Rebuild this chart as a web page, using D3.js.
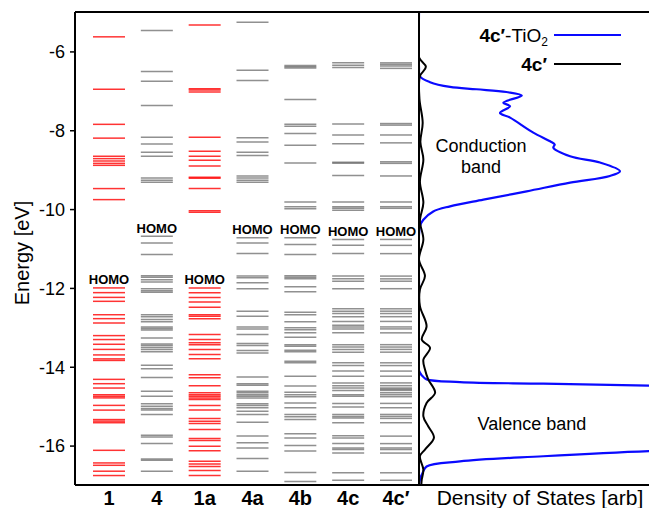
<!DOCTYPE html>
<html>
<head>
<meta charset="utf-8">
<script src="https://cdn.jsdelivr.net/npm/d3@7"></script>
<style>
  body { margin: 0; background: #fff; }
  text { font-family: "Liberation Sans", Arial, Helvetica, sans-serif; }
</style>
</head>
<body>
<div id="chart"></div>
<script>
// molecule labels on the x axis
const categories = ["1", "4", "1a", "4a", "4b", "4c", "4c\u2032"];
const redCols = ["1", "1a"];

// orbital energies [eV]
const levels1 = [-5.63, -6.96, -7.85, -8.20, -8.66, -8.72, -8.78, -8.84, -8.89, -9.48, -9.76,
  -12.00, -12.12, -12.24, -12.34, -12.68, -12.78, -12.89, -13.21, -13.31, -13.43, -13.56, -13.70,
  -13.80, -13.84, -14.32, -14.43, -14.54, -14.71, -14.75, -14.79, -14.98, -15.10, -15.34, -15.38,
  -15.42, -16.12, -16.44, -16.50, -16.65, -16.76];
const levels4 = [-5.47, -6.51, -6.76, -7.37, -8.18, -8.35, -8.56, -8.66, -9.21, -9.27, -9.32,
  -10.69, -10.86, -11.15, -11.69, -11.73, -11.79, -11.85, -12.02, -12.07, -12.11, -12.68, -12.73,
  -12.80, -12.86, -12.99, -13.03, -13.07, -13.27, -13.42, -13.46, -13.51, -13.56, -13.62, -13.96,
  -14.05, -14.27, -14.62, -14.75, -14.94, -15.00, -15.06, -15.10, -15.21, -15.74, -15.78, -15.95,
  -16.34, -16.37, -16.65];
const levels1a = [-5.33, -6.95, -6.98, -7.03, -8.18, -8.53, -8.66, -8.76, -8.91, -9.19, -9.22,
  -9.48, -10.04, -10.08, -12.00, -12.12, -12.24, -12.36, -12.49, -12.68, -12.72, -12.78, -13.18,
  -13.31, -13.39, -13.44, -13.56, -13.69, -13.80, -14.20, -14.28, -14.48, -14.66, -14.71, -14.75,
  -14.79, -14.83, -14.98, -15.10, -15.31, -15.38, -15.44, -15.59, -15.82, -15.87, -16.02, -16.13,
  -16.40, -16.47, -16.53, -16.63, -16.76];
const levels4a = [-5.26, -6.48, -6.74, -8.19, -8.30, -8.56, -8.64, -9.16, -9.21, -9.27, -9.32,
  -10.73, -10.86, -11.13, -11.70, -11.74, -11.87, -12.02, -12.59, -12.72, -12.99, -13.04, -13.18,
  -13.41, -13.46, -13.59, -13.65, -14.26, -14.43, -14.47, -14.62, -14.66, -14.71, -14.75, -14.79,
  -14.94, -14.98, -15.04, -15.13, -15.21, -15.41, -15.76, -15.93, -16.06, -16.33, -16.65];
const levels4b = [-6.36, -6.39, -6.42, -7.22, -7.85, -7.90, -8.08, -8.38, -8.83, -9.82, -9.94,
  -9.99, -10.73, -10.90, -11.15, -11.69, -11.73, -11.77, -11.97, -12.10, -12.62, -12.68, -12.86,
  -13.01, -13.06, -13.14, -13.25, -13.44, -13.48, -13.58, -13.62, -13.86, -13.90, -14.24, -14.49,
  -14.65, -14.71, -14.76, -14.92, -15.04, -15.21, -15.27, -15.34, -15.70, -15.81, -16.00, -16.14,
  -16.68, -16.91];
const levels4c = [-6.29, -6.35, -6.41, -7.84, -8.12, -8.34, -8.81, -8.84, -9.15, -9.82, -9.94,
  -9.98, -10.03, -10.77, -10.92, -11.13, -11.70, -11.77, -11.83, -12.02, -12.53, -12.59, -12.65,
  -12.73, -12.85, -12.95, -12.99, -13.04, -13.14, -13.44, -13.50, -13.56, -13.63, -13.90, -13.97,
  -14.11, -14.24, -14.41, -14.48, -14.54, -14.60, -14.71, -14.75, -14.93, -15.02, -15.21, -15.26,
  -15.30, -15.42, -15.75, -15.81, -15.95, -16.06, -16.10, -16.19, -16.69, -16.88];
const levels4cp = [-6.29, -6.33, -6.37, -6.43, -7.83, -7.87, -8.12, -8.32, -8.80, -8.84, -9.16,
  -9.82, -9.94, -9.98, -10.77, -10.92, -11.13, -11.70, -11.77, -11.83, -12.02, -12.53, -12.59,
  -12.65, -12.73, -12.85, -12.99, -13.04, -13.14, -13.44, -13.50, -13.56, -13.63, -13.90, -13.97,
  -14.11, -14.24, -14.41, -14.48, -14.54, -14.57, -14.60, -14.66, -14.71, -14.76, -14.93, -15.04,
  -15.21, -15.26, -15.31, -15.42, -15.76, -15.95, -16.06, -16.10, -16.19, -16.69, -16.88];
const homo = [-12.00, -10.69, -12.00, -10.73, -10.73, -10.77, -10.77];

const yTicks = [-6, -8, -10, -12, -14, -16];

// density of states curves (energy, dos)
const blueE = [-5.0, -6.40, -6.63, -6.78, -6.90, -6.96, -7.03, -7.12, -7.30, -7.39, -7.56, -7.68,
  -8.06, -8.28, -8.36, -8.44, -8.66, -8.82, -9.04, -9.16, -9.33, -9.55, -9.76, -9.93, -10.06,
  -10.27, -10.44, -12.0, -14.10, -14.24, -14.32, -14.39, -14.43, -14.48, -14.55, -16.05, -16.14,
  -16.27, -16.40, -16.53, -16.69, -16.86, -17.0];
const blueD = [0, 0, 0.004, 0.048, 0.135, 0.25, 0.38, 0.447, 0.367, 0.396, 0.352, 0.396,
  0.497, 0.57, 0.59, 0.584, 0.657, 0.787, 0.874, 0.83, 0.657, 0.468, 0.28, 0.135, 0.062,
  0.019, 0.004, 0, 0, 0.016, 0.033, 0.178, 0.54, 1.0, 1.6, 1.6, 1.0,
  0.54, 0.178, 0.033, 0.016, 0.004, 0];
const blackE = [-5.0, -6.15, -6.39, -6.63, -7.2, -7.81, -8.3, -8.74, -9.3, -9.84, -10.3, -10.77,
  -11.28, -11.70, -12.04, -12.46, -12.97, -13.31, -13.52, -13.82, -14.07, -14.32, -14.66, -14.92,
  -15.26, -15.51, -15.80, -16.10, -16.27, -16.61, -16.86, -17.0];
const blackD = [0, 0, 0.03, 0.004, 0.002, 0.016, 0.006, 0.019, 0.004, 0.019, 0.004, 0.019,
  0, 0.026, 0.004, 0.004, 0.033, 0.012, 0.048, 0.019, 0.026, 0.04, 0.07, 0.033,
  0.019, 0.04, 0.065, 0.026, 0.004, 0.019, 0.012, 0.01];

const width = 649, height = 508;
const plotLeft = 75, divider = 419, plotRight = 649, plotTop = 12, plotBottom = 485;

let svg = d3.select("#chart").append("svg")
  .attr("width", width)
  .attr("height", height);

let y = d3.scaleLinear().domain([-17, -5]).range([plotBottom, plotTop]);
let x = d3.scalePoint().domain(categories).range([109, 396]);
let xDos = d3.scaleLinear().domain([0, 1]).range([divider, plotRight]);

const allLevels = [levels1, levels4, levels1a, levels4a, levels4b, levels4c, levels4cp];
let levelData = [];
categories.forEach(function(c, i) {
  allLevels[i].forEach(function(e) { levelData.push({cat: c, e: e}); });
});

// energy levels
svg.append("g").selectAll("line")
  .data(levelData)
  .enter().append("line")
  .attr("x1", d => x(d.cat) - 16)
  .attr("x2", d => x(d.cat) + 16)
  .attr("y1", d => y(d.e))
  .attr("y2", d => y(d.e))
  .attr("stroke", d => redCols.includes(d.cat) ? "#ff0000" : "#555")
  .attr("stroke-opacity", d => redCols.includes(d.cat) ? 0.8 : 0.65)
  .attr("stroke-width", 1.5);

// HOMO labels
svg.append("g").selectAll("text")
  .data(categories)
  .enter().append("text")
  .attr("x", d => x(d))
  .attr("y", (d, i) => y(homo[i]) - 3.5)
  .attr("text-anchor", "middle")
  .style("font-size", "13px")
  .style("font-weight", "bold")
  .text("HOMO");

// DOS curves
svg.append("clipPath").attr("id", "dosclip")
  .append("rect")
  .attr("x", divider).attr("y", plotTop)
  .attr("width", plotRight - divider).attr("height", plotBottom - plotTop);

let dosLine = d3.line()
  .x(d => xDos(d[1]))
  .y(d => y(d[0]))
  .curve(d3.curveCatmullRom);

svg.append("path")
  .attr("d", dosLine(d3.zip(blueE, blueD)))
  .attr("clip-path", "url(#dosclip)")
  .attr("fill", "none")
  .attr("stroke", "#0a0aff")
  .attr("stroke-width", 2.2);

svg.append("path")
  .attr("d", dosLine(d3.zip(blackE, blackD)))
  .attr("clip-path", "url(#dosclip)")
  .attr("fill", "none")
  .attr("stroke", "#000")
  .attr("stroke-width", 2);

// y axis
let yAxis = svg.append("g")
  .attr("transform", "translate(" + plotLeft + ",0)")
  .call(d3.axisLeft(y).tickValues(yTicks).tickSize(5).tickFormat(d => String(d)));
yAxis.select(".domain").remove();
yAxis.selectAll("text").style("font-size", "18px").attr("dx", "-2").attr("dy", "0.35em");
yAxis.selectAll(".tick line").attr("stroke-width", 1.5);

// frame
let frame = svg.append("g").attr("stroke", "#000").attr("stroke-width", 2);
frame.append("line").attr("x1", plotLeft).attr("x2", plotRight).attr("y1", plotTop).attr("y2", plotTop);
frame.append("line").attr("x1", plotLeft).attr("x2", plotRight).attr("y1", plotBottom).attr("y2", plotBottom);
frame.append("line").attr("x1", plotLeft).attr("x2", plotLeft).attr("y1", plotTop).attr("y2", plotBottom);
frame.append("line").attr("x1", divider).attr("x2", divider).attr("y1", plotTop).attr("y2", plotBottom);

// x labels
svg.append("g").selectAll("text")
  .data(categories)
  .enter().append("text")
  .attr("x", d => x(d))
  .attr("y", 505)
  .attr("text-anchor", "middle")
  .style("font-size", "20px")
  .style("font-weight", "bold")
  .text(d => d);

svg.append("text")
  .attr("x", 540).attr("y", 505)
  .attr("text-anchor", "middle")
  .style("font-size", "21px")
  .text("Density of States [arb]");

svg.append("text")
  .attr("transform", "translate(29,253) rotate(-90)")
  .attr("text-anchor", "middle")
  .style("font-size", "20px")
  .text("Energy [eV]");

// band labels
svg.append("text").attr("x", 481).attr("y", 152).attr("text-anchor", "middle")
  .style("font-size", "18px").text("Conduction");
svg.append("text").attr("x", 481).attr("y", 173).attr("text-anchor", "middle")
  .style("font-size", "18px").text("band");
svg.append("text").attr("x", 532).attr("y", 430).attr("text-anchor", "middle")
  .style("font-size", "18px").text("Valence band");

// legend
let lg1 = svg.append("text").attr("x", 548).attr("y", 42).attr("text-anchor", "end")
  .style("font-size", "19px");
lg1.append("tspan").style("font-weight", "bold").text("4c\u2032");
lg1.append("tspan").text("-TiO");
lg1.append("tspan").attr("dy", 4).style("font-size", "12px").text("2");
svg.append("line").attr("x1", 554).attr("x2", 621).attr("y1", 35).attr("y2", 35)
  .attr("stroke", "#0a0aff").attr("stroke-width", 2.2);

svg.append("text").attr("x", 547).attr("y", 71).attr("text-anchor", "end")
  .style("font-size", "19px").style("font-weight", "bold").text("4c\u2032");
svg.append("line").attr("x1", 554).attr("x2", 621).attr("y1", 64).attr("y2", 64)
  .attr("stroke", "#000").attr("stroke-width", 2);
</script>
</body>
</html>
